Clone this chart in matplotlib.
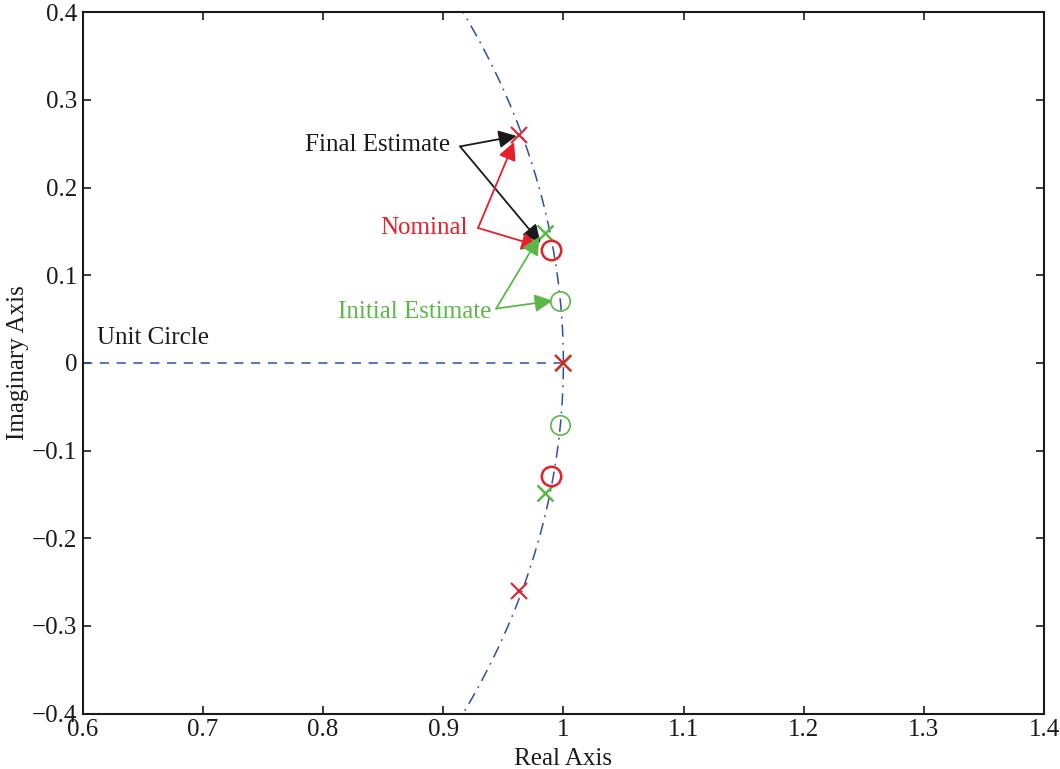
import numpy as np
import matplotlib.pyplot as plt

plt.rcParams['font.family'] = ['Liberation Serif', 'DejaVu Serif']

# poles / zeros
nominal_poles = np.array([0.963 + 0.260j, 0.963 - 0.260j, 1.0 + 0.0j])
nominal_zeros = np.array([0.990 + 0.129j, 0.990 - 0.129j])
initial_poles = np.array([0.985 + 0.148j, 0.985 - 0.148j, 1.0 + 0.0j])
initial_zeros = np.array([0.997 + 0.071j, 0.997 - 0.071j])

red = '#e5202a'
green = '#5cb846'
blue = '#2f4fa5'

fig = plt.figure(figsize=(10.6, 7.69), dpi=100)
ax = fig.add_axes([0.078, 0.072, 0.907, 0.912])

# unit circle and real axis
th = np.linspace(0, 2 * np.pi, 2000)
ax.plot(np.cos(th), np.sin(th), color=blue, lw=1.1, ls=(0, (8, 4, 1.2, 4)))
ax.plot([0.6, 1.0], [0, 0], color=blue, lw=1.1, ls=(0, (6, 5)))

ax.plot(initial_zeros.real, initial_zeros.imag, 'o', mfc='none', mec=green, ms=14, mew=1.2)
ax.plot(initial_poles.real, initial_poles.imag, 'x', color=green, ms=11, mew=1.8)
ax.plot(nominal_zeros.real, nominal_zeros.imag, 'o', mfc='none', mec=red, ms=14, mew=1.8)
ax.plot(nominal_poles.real, nominal_poles.imag, 'x', color=red, ms=11, mew=1.5)

fs = 18

def arrows(label, color, tail, text_xy, heads):
    ax.text(text_xy[0], text_xy[1], label, color=color, fontsize=fs,
            ha='right', va='center')
    for h in heads:
        ax.annotate('', xy=h, xytext=tail,
                    arrowprops=dict(arrowstyle='-|>', color=color, lw=1.3,
                                    mutation_scale=27, shrinkA=0, shrinkB=0))

arrows('Final Estimate', '#1a1a1a', (0.914, 0.247), (0.906, 0.249),
       [(0.961, 0.259), (0.981, 0.137)])
arrows('Nominal', red, (0.929, 0.154), (0.920, 0.154),
       [(0.959, 0.252), (0.980, 0.133)])
arrows('Initial Estimate', green, (0.944, 0.062), (0.940, 0.058),
       [(0.980, 0.144), (0.991, 0.071)])

ax.text(0.612, 0.029, 'Unit Circle', color='#1a1a1a', fontsize=fs,
        ha='left', va='center')

ax.set_xlim(0.6, 1.4)
ax.set_ylim(-0.4, 0.4)
ax.set_xticks(np.arange(0.6, 1.41, 0.1))
ax.set_xticklabels(['0.6', '0.7', '0.8', '0.9', '1', '1.1', '1.2', '1.3', '1.4'])
ax.set_yticks(np.arange(-0.4, 0.41, 0.1))
ax.set_yticklabels(['\u22120.4', '\u22120.3', '\u22120.2', '\u22120.1', '0',
                    '0.1', '0.2', '0.3', '0.4'])
ax.tick_params(direction='in', top=True, right=True, length=6, width=1.2,
               labelsize=fs, colors='#1a1a1a', pad=4)
for s in ax.spines.values():
    s.set_linewidth(1.5)
    s.set_color('#1a1a1a')

ax.set_xlabel('Real Axis', fontsize=fs, labelpad=5, color='#1a1a1a')
ax.set_ylabel('Imaginary Axis', fontsize=fs, labelpad=2, color='#1a1a1a')

fig.savefig('out.png', dpi=100)
